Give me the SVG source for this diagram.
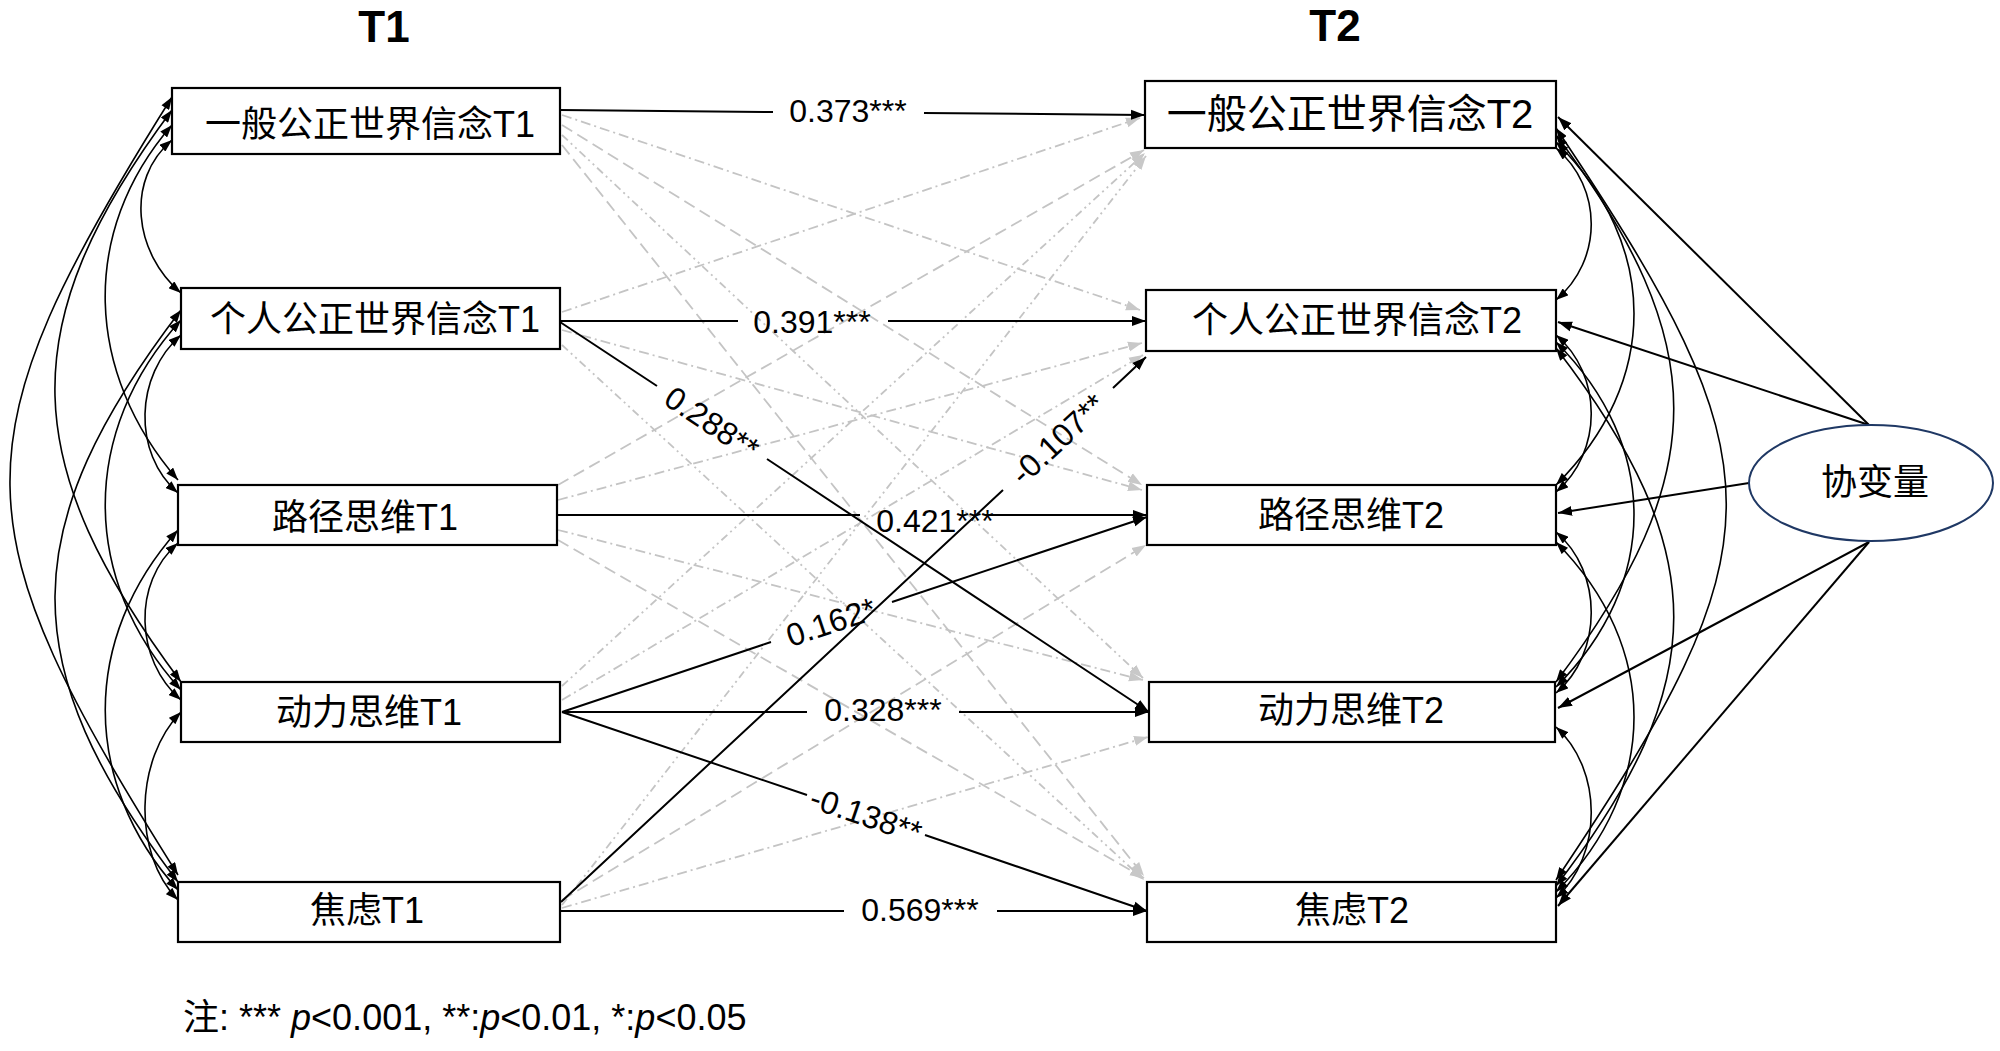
<svg xmlns="http://www.w3.org/2000/svg" width="2000" height="1051" viewBox="0 0 2000 1051">
<style>
text{font-family:"Liberation Sans","Noto Sans CJK SC",sans-serif;fill:#000}
.title{font-size:44px;font-weight:bold;text-anchor:middle}
.nt{font-size:36px;text-anchor:middle}
.lb{font-size:32px;text-anchor:middle}
.box{fill:#fff;stroke:#000;stroke-width:2.2}
.sig{fill:none;stroke:#000;stroke-width:2}
.cov{fill:none;stroke:#000;stroke-width:1.6}
.ns{fill:none;stroke:#c4c4c4;stroke-width:1.8}
.a{stroke-dasharray:10,4,2,4}
.b{stroke-dasharray:12,6}
.c{stroke-dasharray:8,4,2,4,2,4}
</style>
<defs>
<marker id="ab" viewBox="0 0 14 10" refX="14" refY="5" markerWidth="14" markerHeight="11" markerUnits="userSpaceOnUse" orient="auto"><path d="M0,0 L14,5 L0,10 z" fill="#000"/></marker>
<marker id="ac" viewBox="0 0 14 10" refX="14" refY="5" markerWidth="13" markerHeight="9" markerUnits="userSpaceOnUse" orient="auto-start-reverse"><path d="M0,0 L14,5 L0,10 z" fill="#000"/></marker>
<marker id="ag" viewBox="0 0 14 10" refX="14" refY="5" markerWidth="14" markerHeight="11" markerUnits="userSpaceOnUse" orient="auto"><path d="M0,0 L14,5 L0,10 z" fill="#c8c8c8"/></marker>
</defs>
<rect width="2000" height="1051" fill="#fff"/>
<text class="title" x="384" y="42">T1</text>
<text class="title" x="1335" y="41">T2</text>

<g id="connectors">
<g id="nonsig">
<path class="ns a" marker-end="url(#ag)" d="M562,115 L1140,310"/>
<path class="ns b" marker-end="url(#ag)" d="M562,125 L1142,485"/>
<path class="ns c" marker-end="url(#ag)" d="M562,135 L1143,678"/>
<path class="ns b" marker-end="url(#ag)" d="M562,145 L1144,876"/>
<path class="ns a" marker-end="url(#ag)" d="M562,312 L1140,118"/>
<path class="ns a" marker-end="url(#ag)" d="M562,330 L1142,490"/>
<path class="ns c" marker-end="url(#ag)" d="M562,345 L1144,880"/>
<path class="ns b" marker-end="url(#ag)" d="M558,485 L1144,150"/>
<path class="ns a" marker-end="url(#ag)" d="M558,500 L1142,343"/>
<path class="ns a" marker-end="url(#ag)" d="M558,530 L1143,680"/>
<path class="ns b" marker-end="url(#ag)" d="M558,540 L1144,878"/>
<path class="ns c" marker-end="url(#ag)" d="M562,686 L1145,153"/>
<path class="ns a" marker-end="url(#ag)" d="M562,700 L1143,355"/>
<path class="ns c" marker-end="url(#ag)" d="M562,905 L1146,156"/>
<path class="ns b" marker-end="url(#ag)" d="M562,900 L1146,545"/>
<path class="ns a" marker-end="url(#ag)" d="M562,908 L1148,737"/>
</g>
<g id="sig">
<path class="sig" marker-end="url(#ab)" d="M560,110 L773,112 M924,113 L1145,115"/>
<path class="sig" marker-end="url(#ab)" d="M560,321 L738,321 M888,321 L1146,321"/>
<path class="sig" marker-end="url(#ab)" d="M560,322 L657,386 M767,459 L1149,712"/>
<path class="sig" marker-end="url(#ab)" d="M557,515 L860,515 M985,515 L1147,515"/>
<path class="sig" marker-end="url(#ab)" d="M562,712 L771,642 M892,602 L1147,517"/>
<path class="sig" marker-end="url(#ab)" d="M562,712 L807,712 M959,712 L1149,712"/>
<path class="sig" marker-end="url(#ab)" d="M562,712 L807,795 M925,835 L1147,911"/>
<path class="sig" marker-end="url(#ab)" d="M560,911 L844,911 M997,911 L1147,911"/>
<path class="sig" marker-end="url(#ab)" d="M561,902 L1003,490 M1113,388 L1146,357"/>
</g>
<g id="labels">
<text class="lb" x="848" y="122">0.373***</text>
<text class="lb" x="812" y="333">0.391***</text>
<text class="lb" x="935" y="532">0.421***</text>
<text class="lb" x="883" y="721">0.328***</text>
<text class="lb" x="920" y="921">0.569***</text>
<text class="lb" transform="translate(712,423) rotate(33.5)" dy="0.35em">0.288**</text>
<text class="lb" transform="translate(831,622) rotate(-18.4)" dy="0.35em">0.162*</text>
<text class="lb" transform="translate(866,815) rotate(18.8)" dy="0.35em">-0.138**</text>
<text class="lb" transform="translate(1058,439) rotate(-43)" dy="0.35em">-0.107**</text>
</g>
<g id="cov-left">
<path class="cov" marker-start="url(#ac)" marker-end="url(#ac)" d="M172,140 C125,180 134,253 181,293"/>
<path class="cov" marker-start="url(#ac)" marker-end="url(#ac)" d="M172,125 C79,232 85,373 178,480"/>
<path class="cov" marker-start="url(#ac)" marker-end="url(#ac)" d="M172,110 C10,327 19,465 181,682"/>
<path class="cov" marker-start="url(#ac)" marker-end="url(#ac)" d="M172,97 C-48,447 -42,525 178,875"/>
<path class="cov" marker-start="url(#ac)" marker-end="url(#ac)" d="M181,335 C135,375 132,453 178,493"/>
<path class="cov" marker-start="url(#ac)" marker-end="url(#ac)" d="M181,320 C80,431 80,579 181,690"/>
<path class="cov" marker-start="url(#ac)" marker-end="url(#ac)" d="M181,310 C15,527 12,665 178,882"/>
<path class="cov" marker-start="url(#ac)" marker-end="url(#ac)" d="M178,543 C132,583 135,660 181,700"/>
<path class="cov" marker-start="url(#ac)" marker-end="url(#ac)" d="M178,530 C81,638 81,782 178,890"/>
<path class="cov" marker-start="url(#ac)" marker-end="url(#ac)" d="M181,712 C135,759 132,853 178,900"/>
</g>
<g id="cov-right">
<path class="cov" marker-start="url(#ac)" marker-end="url(#ac)" d="M1556,148 C1603,188 1603,260 1556,300"/>
<path class="cov" marker-start="url(#ac)" marker-end="url(#ac)" d="M1556,142 C1660,245 1660,382 1556,485"/>
<path class="cov" marker-start="url(#ac)" marker-end="url(#ac)" d="M1556,135 C1713,343 1713,474 1556,682"/>
<path class="cov" marker-start="url(#ac)" marker-end="url(#ac)" d="M1556,128 C1783,466 1783,542 1556,880"/>
<path class="cov" marker-start="url(#ac)" marker-end="url(#ac)" d="M1556,335 C1603,375 1603,452 1556,492"/>
<path class="cov" marker-start="url(#ac)" marker-end="url(#ac)" d="M1556,342 C1660,446 1660,583 1556,687"/>
<path class="cov" marker-start="url(#ac)" marker-end="url(#ac)" d="M1556,348 C1713,552 1713,682 1556,886"/>
<path class="cov" marker-start="url(#ac)" marker-end="url(#ac)" d="M1556,532 C1603,572 1603,653 1556,693"/>
<path class="cov" marker-start="url(#ac)" marker-end="url(#ac)" d="M1556,542 C1660,647 1660,787 1556,892"/>
<path class="cov" marker-start="url(#ac)" marker-end="url(#ac)" d="M1556,727 C1603,770 1603,855 1556,898"/>
</g>
<g id="covariate-paths">
<path class="sig" marker-end="url(#ab)" d="M1869,425 L1558,117"/>
<path class="sig" marker-end="url(#ab)" d="M1869,425 L1558,322"/>
<path class="sig" marker-end="url(#ab)" d="M1749,483 L1558,513"/>
<path class="sig" marker-end="url(#ab)" d="M1869,542 L1558,708"/>
<path class="sig" marker-end="url(#ab)" d="M1869,542 L1558,906"/>
</g>
</g>

<g id="n-gjw1"><rect class="box" x="172" y="88" width="388" height="66"/><text class="nt" x="370" y="137">一般公正世界信念T1</text></g>
<g id="n-pjw1"><rect class="box" x="181" y="288" width="379" height="61"/><text class="nt" x="375" y="332">个人公正世界信念T1</text></g>
<g id="n-path1"><rect class="box" x="178" y="485" width="379" height="60"/><text class="nt" x="365" y="530">路径思维T1</text></g>
<g id="n-agency1"><rect class="box" x="181" y="682" width="379" height="60"/><text class="nt" x="369" y="725">动力思维T1</text></g>
<g id="n-anx1"><rect class="box" x="178" y="882" width="382" height="60"/><text class="nt" x="367" y="923">焦虑T1</text></g>

<g id="n-gjw2"><rect class="box" x="1145" y="81" width="411" height="67"/><text class="nt" style="font-size:40px" x="1350" y="128">一般公正世界信念T2</text></g>
<g id="n-pjw2"><rect class="box" x="1146" y="290" width="410" height="61"/><text class="nt" x="1357" y="333">个人公正世界信念T2</text></g>
<g id="n-path2"><rect class="box" x="1147" y="485" width="409" height="60"/><text class="nt" x="1351" y="528">路径思维T2</text></g>
<g id="n-agency2"><rect class="box" x="1149" y="682" width="406" height="60"/><text class="nt" x="1351" y="723">动力思维T2</text></g>
<g id="n-anx2"><rect class="box" x="1147" y="882" width="409" height="60"/><text class="nt" x="1352" y="923">焦虑T2</text></g>

<g id="n-covariate"><ellipse cx="1871" cy="483" rx="122" ry="58" fill="#fff" stroke="#1f3864" stroke-width="2"/><text class="nt" x="1875" y="495">协变量</text></g>

<text x="183" y="1030" style="font-size:36px">注: *** <tspan font-style="italic">p</tspan>&lt;0.001, **:<tspan font-style="italic">p</tspan>&lt;0.01, *:<tspan font-style="italic">p</tspan>&lt;0.05</text>
</svg>
